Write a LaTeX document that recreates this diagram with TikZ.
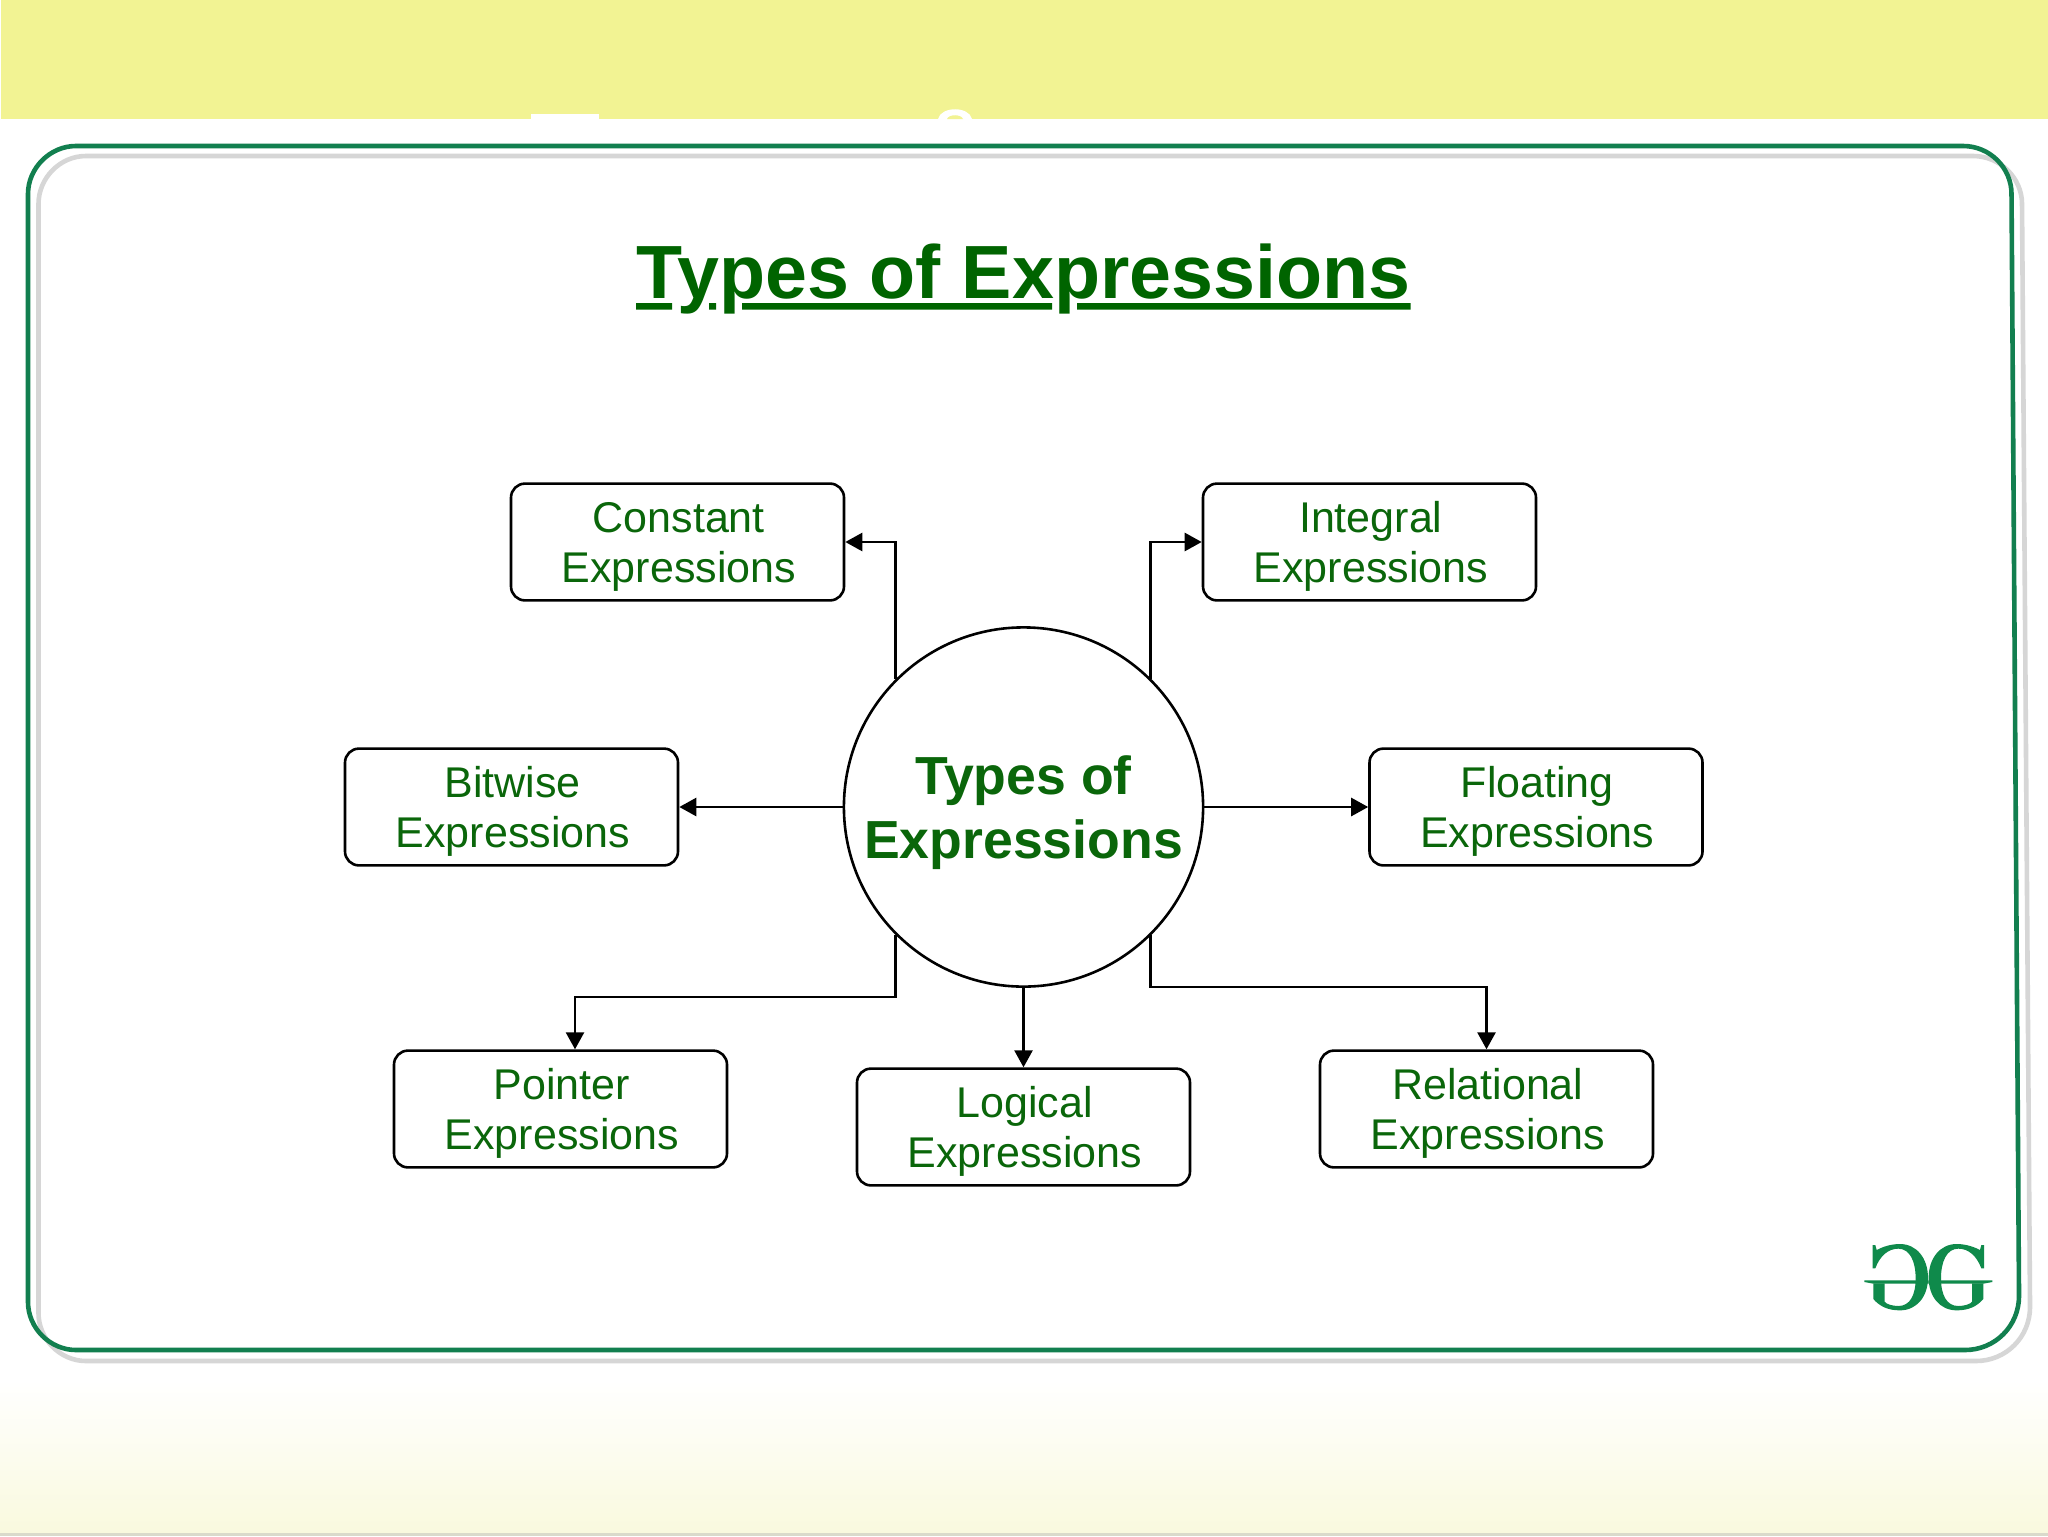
\documentclass[tikz,border=0pt]{standalone}
\usepackage{fontspec}
\setmainfont{Liberation Sans}
\usetikzlibrary{arrows.meta,calc,shadings}
\definecolor{bandyellow}{HTML}{F2F393}
\definecolor{palefoot}{HTML}{F9F9DE}
\definecolor{footline}{HTML}{DADACB}
\definecolor{framegreen}{HTML}{127F4F}
\definecolor{framegrey}{HTML}{D6D6D6}
\definecolor{textgreen}{HTML}{0A660A}
\definecolor{titlegreen}{HTML}{006400}
\definecolor{logogreen}{HTML}{0F8A4B}
\newcommand\boxstrut{\rule{0pt}{19.8pt}\hspace*{1.3pt}}
\newcommand\hubstrut{\rule{0pt}{25.3pt}}
\newcommand\logoglyph[1]{%
  \begin{scope}[shift={(1928.3,1200)},x=#1,y=-0.16667pt]
    \fill[logogreen] (159,135) -- (167,135) -- (167,205) -- (159,205)
      .. controls (145,167) and (120,146) .. (90,146)
      .. controls (55,146) and (38,185) .. (38,235)
      .. controls (38,285) and (55,318) .. (90,318)
      .. controls (108,318) and (127,312) .. (131,305)
      -- (131,250) -- (165,250) -- (165,297)
      .. controls (145,320) and (120,331) .. (85,331)
      .. controls (35,331) and (1,290) .. (1,233)
      .. controls (1,175) and (35,132) .. (85,132)
      .. controls (115,132) and (140,142) .. (155,150) -- cycle;
    \fill[logogreen] (0,241) -- (192,241) -- (192,246) -- (165,251) -- (0,251) -- cycle;
  \end{scope}}
\tikzset{
  x=0.5pt,y=-0.5pt,
  exprbox/.style={draw=black,line width=1.3pt,rounded corners=7pt,minimum width=166.5pt,minimum height=58.4pt,
    inner sep=0pt,align=center,text=textgreen,font=\fontsize{21.5}{25.3}\selectfont,fill=white},
  hub/.style={draw=black,line width=1.3pt,circle,minimum size=179.6pt,inner sep=0pt,align=center,
    text=textgreen,font=\fontsize{26.8}{32.2}\selectfont\bfseries,fill=white},
  link/.style={draw=black,line width=1.3pt,-{Triangle[length=8.5pt,width=9pt]}},
  framegreenline/.style={draw=framegreen,line width=2.3pt},
  framegreyline/.style={draw=framegrey,line width=2.3pt},
}
\begin{document}
\begin{tikzpicture}
\useasboundingbox (0,0) rectangle (2048,1536);
\fill[white] (0,0) rectangle (2048,1536);
% header and footer bands
\fill[bandyellow] (1,0) rectangle (2048,119);
\shade[top color=white,bottom color=palefoot] (0,1380) rectangle (2048,1533);
\fill[footline] (0,1533) rectangle (2048,1536);
\fill[white] (531,114) rectangle (599,119);
\fill[white] (938,119) .. controls (941,106) and (969,106) .. (972,119) -- cycle;
\fill[bandyellow] (947,119) .. controls (949,114) and (961,114) .. (963,119) -- cycle;
% frame
\draw[framegreyline] (38.5,204) .. controls (38.5,178) and (60,156) .. (86,156) -- (1973,156)
  .. controls (2000,156) and (2022,178) .. (2022,204) -- (2030,1307)
  .. controls (2030,1337) and (2006,1361) .. (1976,1361) -- (86,1361)
  .. controls (60,1361) and (38.5,1339) .. (38.5,1313) -- cycle;
\draw[framegreenline] (28,194) .. controls (28,168) and (50,146) .. (76,146) -- (1963,146)
  .. controls (1990,146) and (2011.5,168) .. (2011.5,194) -- (2019,1296)
  .. controls (2019,1326) and (1995,1350) .. (1965,1350) -- (76,1350)
  .. controls (50,1350) and (28,1328) .. (28,1302) -- cycle;
% title
\node[inner sep=0pt,anchor=base,text=titlegreen,font=\fontsize{37.7}{40}\selectfont\bfseries] (title) at (1023.5,298.5) {Types of Expressions};
\fill[titlegreen] (636,303) rectangle (672,309.5) (709,303) rectangle (716,309.5) (742,303) rectangle (1052,309.5) (1077,303) rectangle (1410.5,309.5);
% hub and boxes
\node[hub] (c) at (1023.5,807) {\hubstrut Types of\\Expressions};
\node[exprbox] (constant) at (677.5,542) {\boxstrut Constant\\\hspace*{1.3pt}Expressions};
\node[exprbox] (integral) at (1369.5,542) {\boxstrut Integral\\\hspace*{1.3pt}Expressions};
\node[exprbox] (bitwise) at (511.5,807) {\boxstrut Bitwise\\\hspace*{1.3pt}Expressions};
\node[exprbox] (floating) at (1536,807) {\boxstrut Floating\\\hspace*{1.3pt}Expressions};
\node[exprbox] (pointer) at (560.5,1109) {\boxstrut Pointer\\\hspace*{1.3pt}Expressions};
\node[exprbox] (logical) at (1023.5,1127) {\boxstrut Logical\\\hspace*{1.3pt}Expressions};
\node[exprbox] (relational) at (1486.5,1109) {\boxstrut Relational\\\hspace*{1.3pt}Expressions};
% connectors
\coordinate (ne) at ($(c.45)+(-0.8,0)$);
\coordinate (se) at ($(c.315)+(-0.8,0)$);
\draw[link] (c.135) |- (constant.east);
\draw[link] (ne) |- (integral.west);
\draw[link] (c.west) -- (bitwise.east);
\draw[link] (c.east) -- (floating.west);
\draw[link] (c.south) -- (logical.north);
\coordinate (pdrop) at ($(pointer.north)+(14.5,0)$);
\draw[link] (c.225) -- ++(0,62) -| (pdrop);
\draw[link] (se) -- ++(0,52) -| (relational.north);
% logo
\logoglyph{0.16667pt}
\logoglyph{-0.16667pt}
\end{tikzpicture}
\end{document}
